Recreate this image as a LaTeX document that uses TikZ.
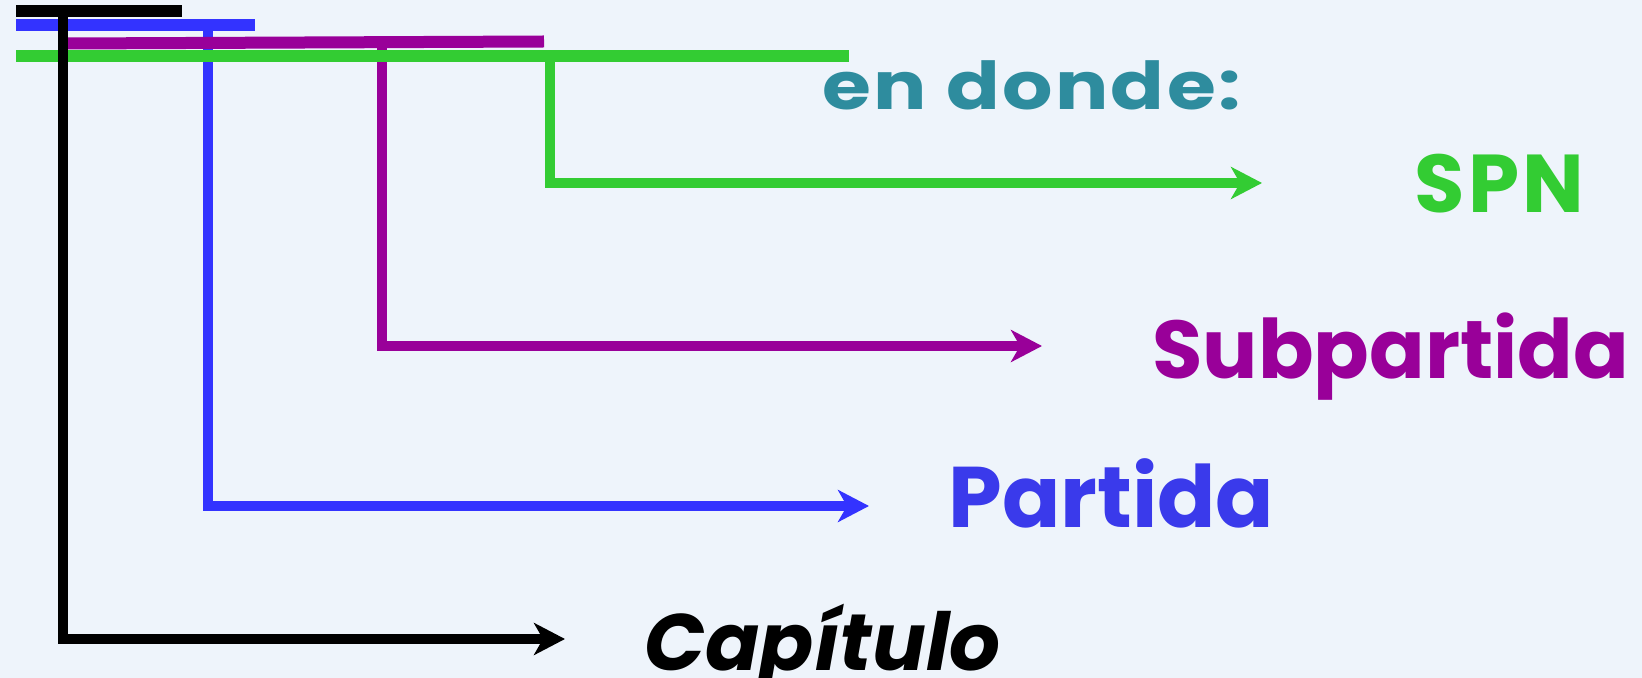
\documentclass[tikz,border=0pt]{standalone}
\usepackage{fontspec}
\setmainfont{Poppins}
\usetikzlibrary{arrows.meta}
\definecolor{bgc}{RGB}{238,244,251}
\definecolor{cgreen}{RGB}{51,204,51}
\definecolor{cpurple}{RGB}{153,0,153}
\definecolor{cblue}{RGB}{51,51,255}
\definecolor{cteal}{RGB}{46,140,158}
\definecolor{cpblue}{RGB}{58,58,235}
\begin{document}
\begin{tikzpicture}[x=0.5pt,y=-0.5pt,
  bar/.style={line width=6pt},
  link/.style={line width=5pt,-{Stealth[length=15.5pt,width=16pt,inset=4.5pt]}},
  lbl/.style={anchor=base west,inner sep=0pt,font=\bfseries}]
\clip (0,0) rectangle (1642,678);
\fill[bgc] (0,0) rectangle (1642,678);
% labels
\node[lbl,text=cteal,xscale=1.2,font=\bfseries\fontsize{33pt}{34pt}\selectfont\addfontfeatures{LetterSpace=3}] (dn) at (822,110) {en donde:};
\node[lbl,text=cgreen,font=\bfseries\fontsize{41pt}{42pt}\selectfont\addfontfeatures{LetterSpace=4}] (spn) at (1414,213) {SPN};
\node[lbl,text=cpurple,font=\bfseries\fontsize{41pt}{42pt}\selectfont] (sub) at (1152,379) {Subpartida};
\node[lbl,text=cpblue,font=\bfseries\fontsize{43pt}{44pt}\selectfont] (par) at (948,527) {Partida};
\node[lbl,text=black,font=\bfseries\itshape\fontsize{40pt}{41pt}\selectfont] (cap) at (644,670) {Capítulo};
% coordinates
\coordinate (bT) at (208,26);
\coordinate (bE) at (869,506);
\coordinate (pT) at (382,42);
\coordinate (pE) at (1042,346);
\coordinate (gT) at (550,56);
\coordinate (gE) at (1262,183);
\coordinate (kT) at (63,11);
\coordinate (kE) at (565,639);
% blue
\draw[bar,cblue] (16,25.5) -- (255,25.5);
\draw[link,cblue] (bT) |- (bE);
% purple
\draw[bar,cpurple] (68,43.5) -- (544,41.5);
\draw[link,cpurple] (pT) |- (pE);
% green
\draw[bar,cgreen] (16,56.5) -- (849,56.5);
\draw[link,cgreen] (gT) |- (gE);
% black
\draw[bar,black] (16,11) -- (182,11);
\draw[link,black] (kT) |- (kE);
\end{tikzpicture}
\end{document}
